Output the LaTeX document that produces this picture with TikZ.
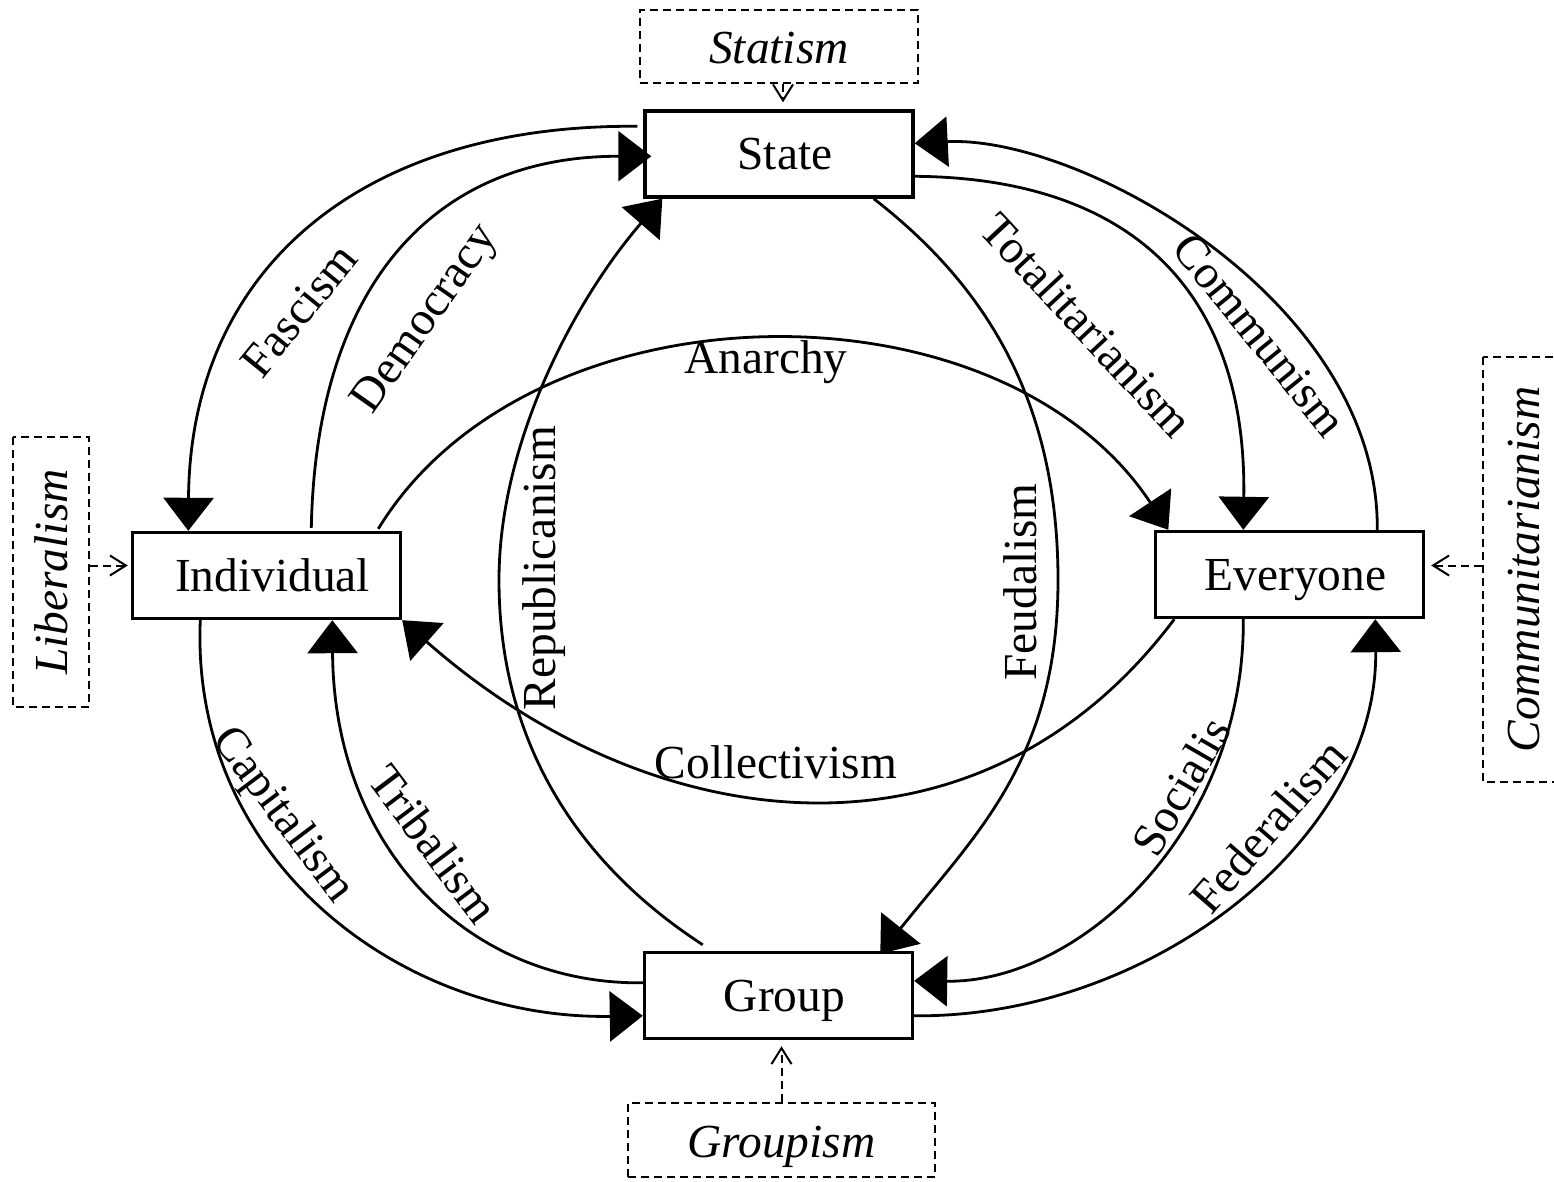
\documentclass[tikz,border=0pt]{standalone}
\usepackage{fontspec}
\setmainfont{Liberation Serif}
\usetikzlibrary{arrows.meta,calc}
\begin{document}
\begin{tikzpicture}[x=0.5pt,y=-0.5pt,
  font=\fontsize{23.7pt}{28pt}\selectfont,
  concept/.style={draw,line width=1.7pt,minimum width=134pt,minimum height=43pt,
    inner sep=0pt,text height=17pt,text depth=1pt,execute at begin node=\hspace*{6pt}},
  ism/.style={draw,line width=1pt,dash pattern=on 4pt off 2.5pt,inner sep=0pt,
    text height=17.5pt,text depth=0.5pt,
    font=\fontsize{23.7pt}{28pt}\selectfont\itshape},
  flow/.style={line width=1.4pt,-{Triangle[length=16.5pt,width=25pt]}},
  feed/.style={line width=1pt,dash pattern=on 4pt off 2.5pt,
    -{Straight Barb[length=8pt,width=10pt]}},
  lbl/.style={inner sep=0pt}
]
\clip (0,0) rectangle (1554,1182);

% the four concepts
\node[concept] (state) at (779,154)     {State};
\node[concept] (indiv) at (266.5,575.5) {Individual};
\node[concept] (every) at (1289.5,574.5){Everyone};
\node[concept] (group) at (778.5,995.5) {Group};

% the four -isms in dashed frames
\node[ism,minimum width=139pt,minimum height=36.5pt] (statism) at (779,46.5) {Statism};
\node[ism,rotate=90,minimum width=135pt,minimum height=38pt] (liberal) at (51,572) {Liberalism};
\node[ism,rotate=90,minimum width=212.5pt,minimum height=39pt] (commun) at (1522,569.5) {Communitarianism};
\node[ism,minimum width=153.5pt,minimum height=37pt] (groupism) at (781.5,1140) {Groupism};

% dashed feeds into the concepts
\coordinate (sttip) at ([xshift=2pt]state.north);
\draw[feed,shorten >=3.5pt] (statism.south -| sttip) -- (sttip);
\coordinate (libtip) at ([yshift=5pt]indiv.west);
\draw[feed,shorten >=1.5pt] (liberal.south |- libtip) -- (libtip);
\coordinate (comtip) at ([yshift=4.5pt]every.east);
\draw[feed,shorten >=3pt] (commun.north |- comtip) -- (comtip);
\coordinate (grtip) at ([xshift=1.5pt]group.south);
\draw[feed,shorten >=3pt] (groupism.north -| grtip) -- (grtip);

% transitions
\draw[flow] ([shift={(-6,17)}]state.north west) .. controls (360,124) and (190,270) .. ([shift={(57.5,0)}]indiv.north west);
\draw[flow] ([shift={(180.5,-3)}]indiv.north west) .. controls (316,290) and (430,156) .. ([shift={(8,47)}]state.north west);
\draw[flow] ([shift={(60,-6)}]group.north west) .. controls (580,865) and (499,745) .. (499,580)
  .. controls (499,440) and (577,297) .. ([shift={(19,0)}]state.south west);
\draw[flow] ([shift={(247.5,-2)}]indiv.north west) .. controls (531,279) and (1000,275) .. ([shift={(14.5,0)}]every.north west);
\draw[flow] ([shift={(0,67)}]state.north east) .. controls (1130,178) and (1247,290) .. ([shift={(89.5,0)}]every.north west);
\draw[flow] ([shift={(223.5,0)}]every.north west) .. controls (1379,300) and (1080,135) .. ([shift={(0,34)}]state.north east);
\draw[flow] ([shift={(-41,0)}]state.south east) .. controls (985,285) and (1058,400) .. (1058,580)
  .. controls (1058,760) and (975,835) .. ([shift={(237.5,3)}]group.north west);
\draw[flow] ([shift={(20.5,0)}]every.south west) .. controls (980,878) and (655,843) .. (indiv.south east);
\draw[flow] ([shift={(69.5,0)}]indiv.south west) .. controls (190,860) and (400,1020) .. ([shift={(0,65)}]group.north west);
\draw[flow] ([shift={(0,32)}]group.north west) .. controls (470,985) and (334,850) .. ([shift={(201.5,0)}]indiv.south west);
\draw[flow] ([shift={(89.5,0)}]every.south west) .. controls (1245,830) and (1080,983) .. ([shift={(0,30)}]group.north east);
\draw[flow] ([shift={(0,65)}]group.north east) .. controls (1150,1018) and (1378,840) .. ([shift={(221.5,0)}]every.south west);

% transition names
\node[lbl,rotate=51]  (l-fas) at (299,310)  {Fascism};
\node[lbl,rotate=55]  (l-dem) at (427,320)  {Democracy};
\node[lbl]            (l-ana) at (766,362)  {Anarchy};
\node[lbl,rotate=-47] (l-tot) at (1087,325) {Totalitarianism};
\node[lbl,rotate=-51] (l-com) at (1260,335) {Communism};
\node[lbl,rotate=90]  (l-rep) at (544,568)  {Republicanism};
\node[lbl,rotate=90]  (l-feu) at (1020,582) {Feudalism};
\node[lbl]            (l-col) at (776,762)  {Collectivism};
\node[lbl,rotate=-53] (l-cap) at (282,816)  {Capitalism};
\node[lbl,rotate=-53] (l-tri) at (434,844)  {Tribalism};
\node[lbl,rotate=60]  (l-soc) at (1181,786) {Socialis};
\node[lbl,rotate=49]  (l-fed) at (1268,826) {Federalism};
\end{tikzpicture}
\end{document}
